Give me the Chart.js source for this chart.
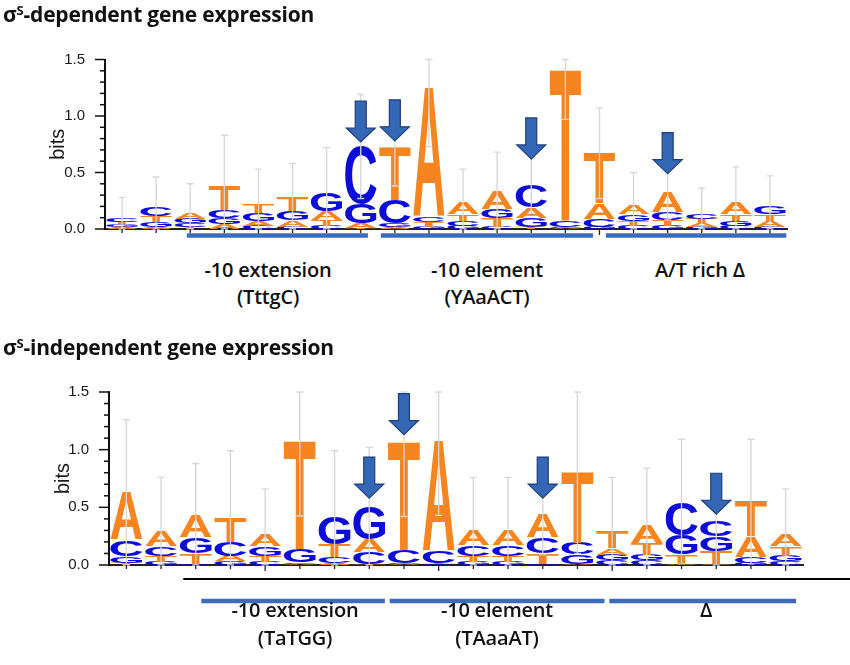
<!DOCTYPE html>
<html><head><meta charset="utf-8">
<script src="https://cdn.jsdelivr.net/npm/chart.js@4/dist/chart.umd.min.js"></script>
<style>
html,body{margin:0;padding:0;background:#fff;}
body{width:850px;height:665px;position:relative;overflow:hidden;font-family:"Open Sans",sans-serif;}
.t{position:absolute;font-weight:700;font-size:21px;color:#111;white-space:nowrap;z-index:3;line-height:1;letter-spacing:-0.2px;}
.t sup{font-size:0.62em;vertical-align:0.55em;line-height:0;}
.lab{position:absolute;font-size:20px;font-weight:600;color:#111;white-space:nowrap;transform:translate(-50%,-50%);z-index:3;line-height:1;letter-spacing:-0.2px;}
canvas{position:absolute;left:0;}
</style></head><body>
<div class="t" style="left:3px;top:4px">σ<sup>S</sup>-dependent gene expression</div>
<div class="t" style="left:3px;top:337px">σ<sup>S</sup>-independent gene expression</div>

<div class="lab" style="left:268px;top:270px">-10 extension</div>
<div class="lab" style="left:268px;top:297px">(TttgC)</div>
<div class="lab" style="left:487px;top:270px">-10 element</div>
<div class="lab" style="left:487px;top:297px">(YAaACT)</div>
<div class="lab" style="left:700px;top:270px">A/T rich Δ</div>

<div class="lab" style="left:295px;top:610px">-10 extension</div>
<div class="lab" style="left:295px;top:638px">(TaTGG)</div>
<div class="lab" style="left:497px;top:610px">-10 element</div>
<div class="lab" style="left:497px;top:638px">(TAaaAT)</div>
<div class="lab" style="left:706px;top:610px">Δ</div>

<canvas id="cTop" width="850" height="250" style="top:0"></canvas>
<canvas id="cBot" width="850" height="270" style="top:340px"></canvas>
<script>
// ---------------- DATA ----------------
const positions = ['1','2','3','4','5','6','7','8','9','10','11','12','13','14','15','16','17','18','19','20'];
const yTickValues = [0.0, 0.5, 1.0, 1.5];

// σS-dependent (top) letter heights in bits
const topA = [0.02,0.02,0.06,0.04,0.04,0.06,0.08,0.04,0.02,1.14,0.10,0.16,0.09,0.01,0.14,0.08,0.18,0.03,0.10,0.05];
const topC = [0.03,0.08,0.03,0.07,0.03,0.02,0.03,0.51,0.21,0.05,0.04,0.02,0.20,0.06,0.07,0.03,0.07,0.05,0.03,0.02];
const topG = [0.02,0.04,0.04,0.06,0.07,0.08,0.16,0.17,0.03,0.02,0.03,0.085,0.08,0.01,0.02,0.06,0.03,0.02,0.04,0.07];
const topT = [0.02,0.05,0.02,0.21,0.08,0.12,0.05,0.01,0.47,0.04,0.06,0.075,0.02,1.34,0.44,0.04,0.05,0.04,0.06,0.06];
const topErr = [0.19,0.27,0.25,0.45,0.31,0.30,0.40,0.46,0.35,0.52,0.30,0.34,0.25,0.45,0.40,0.29,0.25,0.22,0.32,0.27];
const topArrowPos = [8, 9, 13, 17];
const topArrowTip = [0.77, 0.78, 0.62, 0.49];
const topRegionStart = [2.90, 8.59, 15.19];
const topRegionEnd = [8.21, 14.81, 20.48];

// σS-independent (bottom) letter heights in bits
const botA = [0.41,0.13,0.19,0.05,0.10,0.01,0.02,0.11,0.01,0.95,0.13,0.13,0.20,0.01,0.06,0.16,0.01,0.01,0.18,0.10];
const botC = [0.14,0.08,0.01,0.12,0.03,0.015,0.05,0.10,0.11,0.10,0.09,0.09,0.14,0.10,0.04,0.04,0.29,0.14,0.05,0.03];
const botG = [0.06,0.03,0.14,0.03,0.08,0.11,0.24,0.28,0.01,0.01,0.03,0.03,0.01,0.08,0.05,0.05,0.17,0.13,0.02,0.05];
const botT = [0.02,0.05,0.09,0.21,0.05,0.94,0.11,0.01,0.94,0.01,0.05,0.05,0.09,0.61,0.14,0.10,0.08,0.11,0.30,0.08];
const botErr = [0.63,0.47,0.45,0.58,0.40,0.65,0.57,0.52,0.65,0.64,0.46,0.46,0.35,0.70,0.47,0.49,0.54,0.40,0.54,0.40];
const botArrowPos = [8, 9, 13, 18];
const botArrowTip = [0.58, 1.13, 0.58, 0.44];
const botRegionStart = [3.16, 8.59, 14.92];
const botRegionEnd = [8.45, 14.78, 20.30];
const botBlackLineStart = 2.64;

// ---------------- STYLE ----------------
const ORANGE = '#F6841F';
const BLUE = '#0B0BDA';
const letterColor = {A: ORANGE, T: ORANGE, C: BLUE, G: BLUE};
const LETTER_FONT = 'bold 200px "Liberation Sans", Arial, sans-serif';

const glyphCache = {};
function glyph(ctx, l) {
  if (!glyphCache[l]) {
    ctx.save();
    ctx.font = LETTER_FONT;
    const m = ctx.measureText(l);
    glyphCache[l] = {left: m.actualBoundingBoxLeft, right: m.actualBoundingBoxRight,
                     asc: m.actualBoundingBoxAscent, desc: m.actualBoundingBoxDescent};
    ctx.restore();
  }
  return glyphCache[l];
}
function drawLetter(ctx, l, x0, y0, w, h) {
  if (h < 0.4 || w <= 0) return;
  const g = glyph(ctx, l);
  const gw = g.left + g.right, gh = g.asc + g.desc;
  ctx.save();
  ctx.translate(x0, y0);
  ctx.scale(w / gw, h / gh);
  ctx.font = LETTER_FONT;
  ctx.textBaseline = 'alphabetic';
  ctx.textAlign = 'left';
  ctx.fillStyle = letterColor[l];
  ctx.fillText(l, g.left, g.asc);
  ctx.restore();
}
function drawArrow(ctx, x, tipY) {
  const len = 41, shaftW = 11, headW = 29, headL = 14;
  ctx.save();
  ctx.beginPath();
  ctx.moveTo(x - shaftW / 2, tipY - len);
  ctx.lineTo(x + shaftW / 2, tipY - len);
  ctx.lineTo(x + shaftW / 2, tipY - headL);
  ctx.lineTo(x + headW / 2, tipY - headL);
  ctx.lineTo(x, tipY);
  ctx.lineTo(x - headW / 2, tipY - headL);
  ctx.lineTo(x - shaftW / 2, tipY - headL);
  ctx.closePath();
  ctx.fillStyle = '#3567B7';
  ctx.fill();
  ctx.strokeStyle = '#1F3F78';
  ctx.lineWidth = 1.2;
  ctx.stroke();
  ctx.restore();
}

function buildDatasets(A, C, G, T) {
  const L = ['A', 'C', 'G', 'T'];
  const H = [A, C, G, T];
  const ranks = [[], [], [], []], lets = [[], [], [], []];
  for (let i = 0; i < A.length; i++) {
    const col = L.map((l, k) => ({l, h: H[k][i]})).sort((a, b) => a.h - b.h);
    col.forEach((c, r) => { ranks[r].push(c.h); lets[r].push(c.l); });
  }
  return ranks.map((d, r) => ({
    data: d, letters: lets[r], backgroundColor: 'rgba(0,0,0,0)', borderWidth: 0,
    stack: 's', barPercentage: 0.92, categoryPercentage: 1.0
  }));
}

const logoPlugin = {
  id: 'logo',
  afterDatasetsDraw(chart) {
    const ctx = chart.ctx;
    chart.data.datasets.forEach((ds, di) => {
      const meta = chart.getDatasetMeta(di);
      meta.data.forEach((el, i) => {
        const p = el.getProps(['x', 'y', 'base', 'width'], true);
        const top = Math.min(p.y, p.base), h = Math.abs(p.base - p.y);
        drawLetter(ctx, ds.letters[i], p.x - p.width / 2, top, p.width, h);
      });
    });
  },
  afterDraw(chart, args, o) {
    const ctx = chart.ctx, xs = chart.scales.x, ys = chart.scales.y, ca = chart.chartArea;
    // error bars
    ctx.save();
    ctx.strokeStyle = 'rgba(214,214,214,0.95)';
    ctx.lineWidth = 1.4;
    o.err.forEach((e, i) => {
      let tot = 0;
      chart.data.datasets.forEach(ds => tot += ds.data[i]);
      const x = xs.getPixelForValue(i);
      const yHi = ys.getPixelForValue(Math.min(tot + e, ys.max));
      const yLo = ys.getPixelForValue(Math.max(tot - e, 0));
      ctx.beginPath();
      ctx.moveTo(x, yLo); ctx.lineTo(x, yHi);
      ctx.moveTo(x - 3.5, yHi); ctx.lineTo(x + 3.5, yHi);
      ctx.moveTo(x - 3.5, yLo); ctx.lineTo(x + 3.5, yLo);
      ctx.stroke();
    });
    ctx.restore();
    // arrows
    o.arrowPos.forEach((p, k) => drawArrow(ctx, xs.getPixelForValue(p - 1), ys.getPixelForValue(o.arrowTip[k])));
    // y ticks (major + minor)
    ctx.save();
    ctx.strokeStyle = '#111';
    ctx.lineWidth = 1.5;
    for (let k = 0; k <= 15; k++) {
      const y = ys.getPixelForValue(k / 10);
      const len = (k % 5 === 0) ? 10 : 5;
      ctx.beginPath(); ctx.moveTo(ca.left - len, y); ctx.lineTo(ca.left, y); ctx.stroke();
    }
    // x ticks
    ctx.strokeStyle = '#222';
    ctx.lineWidth = 1.3;
    for (let i = 0; i < chart.data.labels.length; i++) {
      const x = xs.getPixelForValue(i);
      const len = ((i + 1) % 5 === 0) ? 6 : 4;
      ctx.beginPath(); ctx.moveTo(x, ca.bottom); ctx.lineTo(x, ca.bottom + len); ctx.stroke();
    }
    ctx.restore();
    // black line
    if (o.blackStart != null) {
      ctx.save();
      ctx.strokeStyle = '#000'; ctx.lineWidth = 2.2;
      ctx.beginPath();
      ctx.moveTo(xs.getPixelForValue(o.blackStart - 1), ca.bottom + o.blackOffset);
      ctx.lineTo(chart.width, ca.bottom + o.blackOffset);
      ctx.stroke();
      ctx.restore();
    }
    // region lines
    ctx.save();
    ctx.strokeStyle = '#3C6CB9'; ctx.lineWidth = 4.5;
    o.regStart.forEach((s, k) => {
      ctx.beginPath();
      ctx.moveTo(xs.getPixelForValue(s - 1), ca.bottom + o.regOffset);
      ctx.lineTo(xs.getPixelForValue(o.regEnd[k] - 1), ca.bottom + o.regOffset);
      ctx.stroke();
    });
    ctx.restore();
  }
};

function makeChart(id, A, C, G, T, cfg) {
  return new Chart(document.getElementById(id), {
    type: 'bar',
    data: {labels: positions, datasets: buildDatasets(A, C, G, T)},
    plugins: [logoPlugin],
    options: {
      responsive: false, animation: false,
      layout: {padding: {left: 0, right: cfg.padRight, top: cfg.padTop, bottom: 0}},
      plugins: {
        legend: {display: false}, tooltip: {enabled: false},
        logo: cfg.logo
      },
      scales: {
        x: {
          stacked: true,
          grid: {display: false},
          ticks: {display: false},
          border: {display: true, color: '#222', width: 2},
          afterFit: s => { s.height = cfg.xHeight; }
        },
        y: {
          stacked: true, min: 0, max: 1.5,
          afterBuildTicks: s => { s.ticks = yTickValues.map(v => ({value: v})); },
          ticks: {padding: 12, color: '#1a1a1a', font: {family: '"Liberation Sans", Arial, sans-serif', size: 15},
                  callback: v => Number(v).toFixed(1)},
          grid: {display: false},
          border: {display: true, color: '#111', width: 2},
          title: {display: true, text: 'bits', color: '#1a1a1a', padding: cfg.titlePad,
                  font: {family: '"Liberation Sans", Arial, sans-serif', size: 20}},
          afterFit: s => { s.width = cfg.yWidth; }
        }
      }
    }
  });
}

makeChart('cTop', topA, topC, topG, topT, {
  padRight: 63, padTop: 59.5, xHeight: 20.5, yWidth: 105, titlePad: 46,
  logo: {err: topErr, arrowPos: topArrowPos, arrowTip: topArrowTip,
         regStart: topRegionStart, regEnd: topRegionEnd, regOffset: 6.5, blackStart: null}
});
makeChart('cBot', botA, botC, botG, botT, {
  padRight: 47, padTop: 52, xHeight: 45, yWidth: 109, titlePad: 51,
  logo: {err: botErr, arrowPos: botArrowPos, arrowTip: botArrowTip,
         regStart: botRegionStart, regEnd: botRegionEnd, regOffset: 36,
         blackStart: botBlackLineStart, blackOffset: 14}
});
</script>
</body></html>
